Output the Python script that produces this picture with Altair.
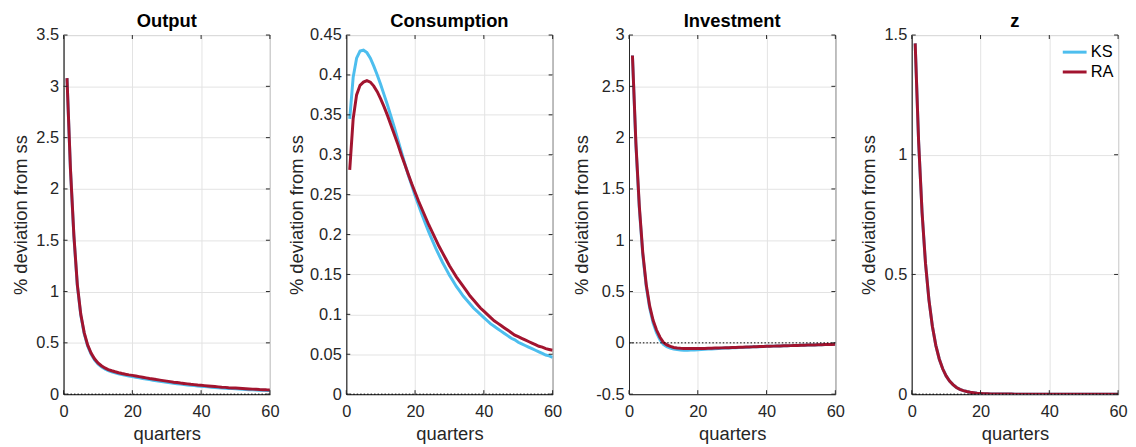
import altair as alt
import pandas as pd

quarters = list(range(1, 61))
x_ticks = [0, 20, 40, 60]
series_names = ["KS", "RA"]
series_colors = ["#4DBEEE", "#A2142F"]
panel_titles = ["Output", "Consumption", "Investment", "z"]

output_ks = [3.08, 2.19, 1.54, 1.06, 0.77, 0.59, 0.47, 0.39, 0.335, 0.295,
             0.267, 0.246, 0.230, 0.217, 0.207, 0.198, 0.190, 0.183, 0.177, 0.171,
             0.165, 0.159, 0.153, 0.147, 0.142, 0.136, 0.131, 0.126, 0.121, 0.116,
             0.111, 0.107, 0.102, 0.098, 0.094, 0.090, 0.087, 0.083, 0.080, 0.077,
             0.074, 0.071, 0.068, 0.065, 0.063, 0.060, 0.058, 0.056, 0.054, 0.052,
             0.050, 0.048, 0.046, 0.044, 0.043, 0.041, 0.039, 0.038, 0.036, 0.035]
output_ra = [3.08, 2.20, 1.55, 1.07, 0.78, 0.60, 0.48, 0.40, 0.345, 0.305,
             0.277, 0.256, 0.240, 0.228, 0.218, 0.209, 0.201, 0.194, 0.188, 0.183,
             0.177, 0.171, 0.165, 0.159, 0.153, 0.148, 0.142, 0.137, 0.132, 0.127,
             0.122, 0.117, 0.113, 0.108, 0.104, 0.100, 0.096, 0.093, 0.089, 0.086,
             0.083, 0.080, 0.077, 0.074, 0.071, 0.068, 0.066, 0.063, 0.061, 0.059,
             0.057, 0.055, 0.053, 0.051, 0.049, 0.047, 0.045, 0.044, 0.042, 0.041]
cons_ks = [0.345, 0.397, 0.421, 0.430, 0.431, 0.428, 0.421, 0.411, 0.400, 0.388,
           0.375, 0.362, 0.348, 0.334, 0.319, 0.304, 0.289, 0.275, 0.262, 0.249,
           0.237, 0.225, 0.214, 0.203, 0.193, 0.183, 0.174, 0.165, 0.157, 0.149,
           0.142, 0.135, 0.129, 0.123, 0.118, 0.113, 0.108, 0.104, 0.100, 0.096,
           0.092, 0.088, 0.085, 0.082, 0.079, 0.076, 0.073, 0.070, 0.068, 0.065,
           0.063, 0.061, 0.059, 0.057, 0.055, 0.053, 0.051, 0.049, 0.048, 0.046]
cons_ra = [0.281, 0.345, 0.375, 0.387, 0.391, 0.393, 0.391, 0.386, 0.379, 0.370,
           0.360, 0.349, 0.337, 0.325, 0.313, 0.300, 0.288, 0.276, 0.264, 0.253,
           0.242, 0.232, 0.222, 0.212, 0.203, 0.194, 0.185, 0.177, 0.169, 0.161,
           0.154, 0.147, 0.141, 0.135, 0.129, 0.123, 0.118, 0.113, 0.108, 0.104,
           0.100, 0.096, 0.092, 0.089, 0.086, 0.083, 0.080, 0.077, 0.074, 0.072,
           0.070, 0.068, 0.066, 0.064, 0.062, 0.060, 0.059, 0.057, 0.056, 0.055]
inv_ks = [2.80, 1.93, 1.31, 0.86, 0.55, 0.34, 0.195, 0.10, 0.030, -0.015,
          -0.037, -0.052, -0.061, -0.066, -0.069, -0.071, -0.071, -0.070, -0.069, -0.067,
          -0.065, -0.063, -0.061, -0.059, -0.057, -0.055, -0.053, -0.051, -0.050, -0.048,
          -0.047, -0.045, -0.044, -0.042, -0.041, -0.039, -0.038, -0.037, -0.035, -0.034,
          -0.033, -0.032, -0.031, -0.030, -0.029, -0.028, -0.027, -0.026, -0.025, -0.024,
          -0.023, -0.022, -0.021, -0.020, -0.019, -0.018, -0.017, -0.016, -0.015, -0.014]
inv_ra = [2.80, 1.95, 1.33, 0.88, 0.57, 0.36, 0.22, 0.125, 0.055, 0.005,
          -0.020, -0.035, -0.045, -0.050, -0.053, -0.055, -0.056, -0.056, -0.056, -0.055,
          -0.055, -0.054, -0.053, -0.052, -0.051, -0.050, -0.049, -0.048, -0.047, -0.046,
          -0.045, -0.043, -0.042, -0.041, -0.040, -0.039, -0.037, -0.036, -0.035, -0.034,
          -0.033, -0.032, -0.031, -0.030, -0.029, -0.028, -0.027, -0.026, -0.025, -0.024,
          -0.023, -0.022, -0.021, -0.020, -0.019, -0.018, -0.017, -0.016, -0.015, -0.014]
z_ks = [1.465, 1.055, 0.760, 0.547, 0.394, 0.284, 0.204, 0.147, 0.106, 0.076,
        0.055, 0.040, 0.028, 0.020, 0.015, 0.011, 0.008, 0.006, 0.004, 0.003,
        0.002, 0.0015, 0.001, 0.0008, 0.0006, 0.0004, 0.0003, 0.0002, 0.0002, 0.0001,
        0.0001, 0.0001, 0.0, 0.0, 0.0, 0.0, 0.0, 0.0, 0.0, 0.0,
        0.0, 0.0, 0.0, 0.0, 0.0, 0.0, 0.0, 0.0, 0.0, 0.0,
        0.0, 0.0, 0.0, 0.0, 0.0, 0.0, 0.0, 0.0, 0.0, 0.0]
z_ra = [1.465, 1.055, 0.760, 0.547, 0.394, 0.284, 0.204, 0.147, 0.106, 0.076,
        0.055, 0.040, 0.028, 0.020, 0.015, 0.011, 0.008, 0.006, 0.004, 0.003,
        0.002, 0.0015, 0.001, 0.0008, 0.0006, 0.0004, 0.0003, 0.0002, 0.0002, 0.0001,
        0.0001, 0.0001, 0.0, 0.0, 0.0, 0.0, 0.0, 0.0, 0.0, 0.0,
        0.0, 0.0, 0.0, 0.0, 0.0, 0.0, 0.0, 0.0, 0.0, 0.0,
        0.0, 0.0, 0.0, 0.0, 0.0, 0.0, 0.0, 0.0, 0.0, 0.0]

y_domains = [[0, 3.5], [0, 0.45], [-0.5, 3], [0, 1.5]]
y_ticks = [
    [0, 0.5, 1, 1.5, 2, 2.5, 3, 3.5],
    [0, 0.05, 0.1, 0.15, 0.2, 0.25, 0.3, 0.35, 0.4, 0.45],
    [-0.5, 0, 0.5, 1, 1.5, 2, 2.5, 3],
    [0, 0.5, 1, 1.5],
]
y_title_x = [-43, -50.5, -48, -43.5]

W, H = 208, 362
FONT = "Liberation Sans"
DARK = "#262626"
TICK = 4

label_expr = "datum.value < 0 ? '-' + format(-datum.value, '~g') : format(datum.value, '~g')"


def panel(i, ks, ra):
    df = pd.DataFrame({
        "quarter": quarters * 2,
        "value": ks + ra,
        "series": ["KS"] * len(ks) + ["RA"] * len(ra),
    })
    xs = alt.Scale(domain=[0, 60], nice=False, zero=False)
    ys = alt.Scale(domain=y_domains[i], nice=False, zero=False)
    x_enc = alt.X("quarter:Q", scale=xs,
                  axis=alt.Axis(values=x_ticks, title="quarters", titleY=39.5,
                                titleBaseline="middle", labelPadding=10, labelFlush=False))
    y_enc = alt.Y("value:Q", scale=ys,
                  axis=alt.Axis(values=y_ticks[i], title="% deviation from ss",
                                labelExpr=label_expr, titleX=y_title_x[i],
                                titleBaseline="middle", labelPadding=5, labelFlush=False))
    if i == 3:
        legend = alt.Legend(title=None, orient="none", legendX=156, legendY=9,
                            symbolType="M-2,0H2", symbolSize=144, symbolStrokeWidth=3,
                            labelFont=FONT, labelFontSize=16.5, labelColor="#000000",
                            labelOffset=8, rowPadding=3, padding=0)
    else:
        legend = None
    lines = alt.Chart(df).mark_line(strokeWidth=3, clip=True).encode(
        x=x_enc, y=y_enc,
        color=alt.Color("series:N", scale=alt.Scale(domain=series_names, range=series_colors),
                        legend=legend),
    )
    zero_df = pd.DataFrame({"value": [0]})
    zero = alt.Chart(zero_df).mark_rule(color="black", strokeWidth=1, strokeDash=[1.5, 2]).encode(
        y=alt.Y("value:Q", scale=ys))
    ytk = pd.DataFrame({"value": y_ticks[i]})
    xtk = pd.DataFrame({"quarter": x_ticks})
    tk = dict(color=DARK, strokeWidth=1)
    left = alt.Chart(ytk).mark_rule(**tk).encode(y=alt.Y("value:Q", scale=ys), x=alt.value(0), x2=alt.value(TICK))
    right = alt.Chart(ytk).mark_rule(**tk).encode(y=alt.Y("value:Q", scale=ys), x=alt.value(W - TICK), x2=alt.value(W))
    bottom = alt.Chart(xtk).mark_rule(**tk).encode(x=alt.X("quarter:Q", scale=xs), y=alt.value(H - TICK), y2=alt.value(H))
    top = alt.Chart(xtk).mark_rule(**tk).encode(x=alt.X("quarter:Q", scale=xs), y=alt.value(0), y2=alt.value(TICK))
    title_df = pd.DataFrame({"label": [panel_titles[i]]})
    ttl = alt.Chart(title_df).mark_text(
        font=FONT, fontSize=18.5, fontWeight="bold", color="#000000",
        align="center", baseline="alphabetic",
    ).encode(x=alt.value(W / 2), y=alt.value(-8), text="label:N")
    return alt.layer(lines, zero, left, right, bottom, top, ttl).properties(width=W, height=H)


panels = [
    panel(0, output_ks, output_ra),
    panel(1, cons_ks, cons_ra),
    panel(2, inv_ks, inv_ra),
    panel(3, z_ks, z_ra),
]

chart = alt.HConcatChart(hconcat=panels, spacing=77, bounds="flush").resolve_legend(
    color="independent"
).properties(
    padding={"left": 3, "top": 1.5, "right": 0, "bottom": 0}, background="white"
).configure_view(
    stroke=DARK, strokeWidth=1
).configure_axis(
    labelFont=FONT, labelFontSize=16.5, labelColor=DARK,
    titleFont=FONT, titleFontSize=18.5, titleColor=DARK, titleFontWeight="normal",
    domainColor=DARK, domainWidth=1, ticks=False, tickSize=0,
    grid=True, gridColor="#e3e3e3", gridWidth=1,
)

chart.save("out.html", embed_options={"renderer": "svg", "actions": False})
